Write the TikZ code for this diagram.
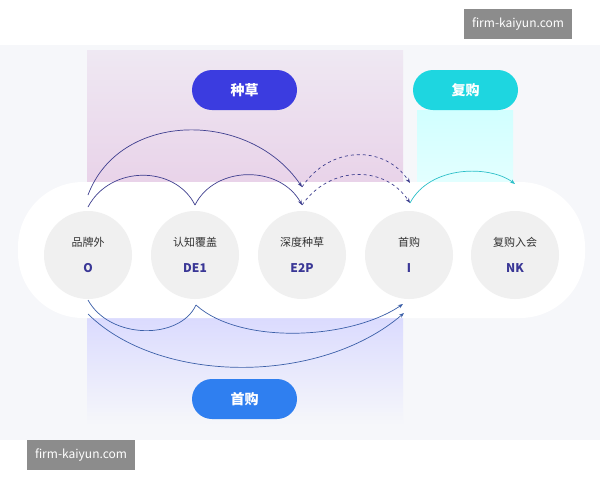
\documentclass[tikz,border=0pt]{standalone}
\usepackage{fontspec}
\setmainfont{Noto Sans CJK SC}
\usetikzlibrary{arrows.meta}
\definecolor{bg}{HTML}{F6F7FA}
\definecolor{code}{HTML}{3A3796}
\definecolor{arr}{HTML}{3F3F8F}
\definecolor{arrb}{HTML}{3B5FA8}
\definecolor{teal}{HTML}{2BBFC8}
\begin{document}
\begin{tikzpicture}[x=1pt,y=-1pt,
  circ/.style={circle,fill=black!6,minimum size=88pt,inner sep=0pt},
  pill/.style={rounded corners=20pt,minimum width=105pt,minimum height=40pt,text=white,font=\bfseries\fontsize{14}{16}\selectfont},
  lab/.style={font=\fontsize{11}{13}\selectfont,text=black!80},
  cd/.style={font=\bfseries\fontsize{12}{14}\selectfont,text=code},
  ar/.style={draw=arr,line width=0.7pt,-{Stealth[length=5pt]}},
  wm/.style={fill=black!45,text=white,font=\fontsize{12}{14}\selectfont,minimum height=30pt,inner xsep=8pt}]
\useasboundingbox (0,0) rectangle (600,480);
\fill[bg] (0,45) rectangle (600,440);
\fill[white] (0,0) rectangle (600,45);
\fill[white] (0,440) rectangle (600,480);
\shade[top color=violet!6!bg,bottom color=violet!18!white] (87,50) rectangle (403,195);
\shade[top color=blue!16!white,bottom color=bg] (87,300) rectangle (403,425);
\shade[top color=cyan!18!white,bottom color=cyan!10!white] (417,110) rectangle (513,195);
\fill[white,rounded corners=65pt] (18,182) rectangle (585,318);
\node[pill,fill={rgb,255:red,59;green,60;blue,224}] (pz) at (244.5,90) {种草};
\node[pill,fill={rgb,255:red,30;green,214;blue,224}] (pf) at (465.5,90) {复购};
\node[pill,fill={rgb,255:red,47;green,127;blue,240}] (ps) at (244.5,399) {首购};
\foreach \n/\x/\a/\b in {o/88/品牌外/O,d/195/认知覆盖/DE1,e/302/深度种草/E2P,i/409/首购/I,n/515/复购入会/NK}{
  \node[circ] (\n) at (\x,255) {};
  \node[lab] (\n t) at (\x,242) {\a};
  \node[cd] (\n c) at (\x,268) {\b};}
\coordinate (o1) at (88,195); \coordinate (e1) at (302,187);
\coordinate (o2) at (88,207); \coordinate (d2) at (195,205); \coordinate (e2) at (302,205);
\coordinate (i1) at (410,183); \coordinate (i2) at (410,203); \coordinate (n1) at (515,184);
\coordinate (o3) at (88,300); \coordinate (d3) at (196,305); \coordinate (i3) at (403,304);
\coordinate (o4) at (88,314); \coordinate (i4) at (404,313);
\draw[ar] (o1) .. controls (120,110) and (250,110) .. (e1);
\draw[draw=arr,line width=0.7pt] (o2) .. controls (110,165) and (175,165) .. (d2);
\draw[ar] (d2) .. controls (215,165) and (280,165) .. (e2);
\draw[ar,dashed] (e1) .. controls (330,145) and (385,145) .. (i1);
\draw[ar,dashed] (e2) .. controls (330,165) and (385,165) .. (i2);
\draw[ar,draw=teal] (i2) .. controls (430,165) and (490,165) .. (n1);
\draw[draw=arrb,line width=0.7pt] (o3) .. controls (110,340) and (180,340) .. (d3);
\draw[ar,draw=arrb] (d3) .. controls (240,345) and (350,340) .. (i3);
\draw[ar,draw=arrb] (o4) .. controls (160,385) and (320,385) .. (i4);
\node[wm] (w1) at (518,24) {firm-kaiyun.com};
\node[wm] (w2) at (81,455) {firm-kaiyun.com};
\end{tikzpicture}
\end{document}
